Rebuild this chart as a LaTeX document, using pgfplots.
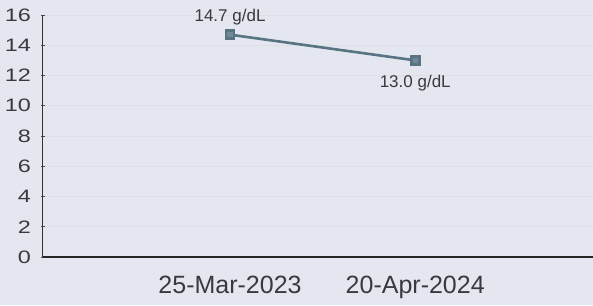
\documentclass[border=0pt]{standalone}
\usepackage{pgfplots}
\pgfplotsset{compat=1.18}
\usepackage{fontspec}
\setmainfont{Liberation Sans}
\definecolor{bg}{HTML}{E4E6F0}
\definecolor{gridc}{HTML}{DCDEE8}
\definecolor{linec}{HTML}{587382}
\definecolor{txt}{HTML}{3A3A3E}
\begin{document}
\begin{tikzpicture}
\useasboundingbox (-43pt,-48pt) rectangle (550pt,257pt);
\fill[bg] (-43pt,-48pt) rectangle (550pt,257pt);
\begin{axis}[
  scale only axis,
  width=550pt, height=242pt,
  at={(0,0)}, anchor=south west,
  xmin=-1.01, xmax=1.96,
  ymin=0, ymax=16,
  ytick={0,2,...,16},
  xtick={0,1},
  xticklabels={25-Mar-2023,20-Apr-2024},
  axis lines=left,
  axis line style={-},
  x axis line style={line width=1.6pt, color=black!85},
  y axis line style={line width=1pt, color=black!80},
  ymajorgrids,
  grid style={gridc, line width=0.6pt},
  major tick length=3pt,
  tick style={black!70, line width=0.6pt},
  xtick style={draw=none},
  yticklabel style={font=\fontsize{18}{18}\selectfont, text=txt, xshift=-7pt},
  yticklabel={\scalebox{1.3}[1]{\pgfmathprintnumber{\tick}}},
  xticklabel style={font=\fontsize{25}{25}\selectfont, text=txt, yshift=-14pt},
  /pgf/number format/assume math mode=true,
  clip=false,
]
\addplot[color=linec, line width=2.6pt, mark=square*, mark size=4pt,
  mark options={fill=linec!85, draw=linec},
  nodes near coords={\pgfmathprintnumber[fixed,precision=1,fixed zerofill]{\pgfplotspointmeta} g/dL},
  point meta=y,
  visualization depends on={value \thisrow{anc} \as \anc},
  visualization depends on={\thisrow{sep} \as \sep},
  every node near coord/.append style={font=\fontsize{17}{17}\selectfont, text=txt, anchor=\anc, inner xsep=0pt, inner ysep=\sep pt},
] table[x=x,y=y] {
x y anc sep
0 14.7 south 8
1 13.0 north 14
};
\end{axis}
\end{tikzpicture}
\end{document}
